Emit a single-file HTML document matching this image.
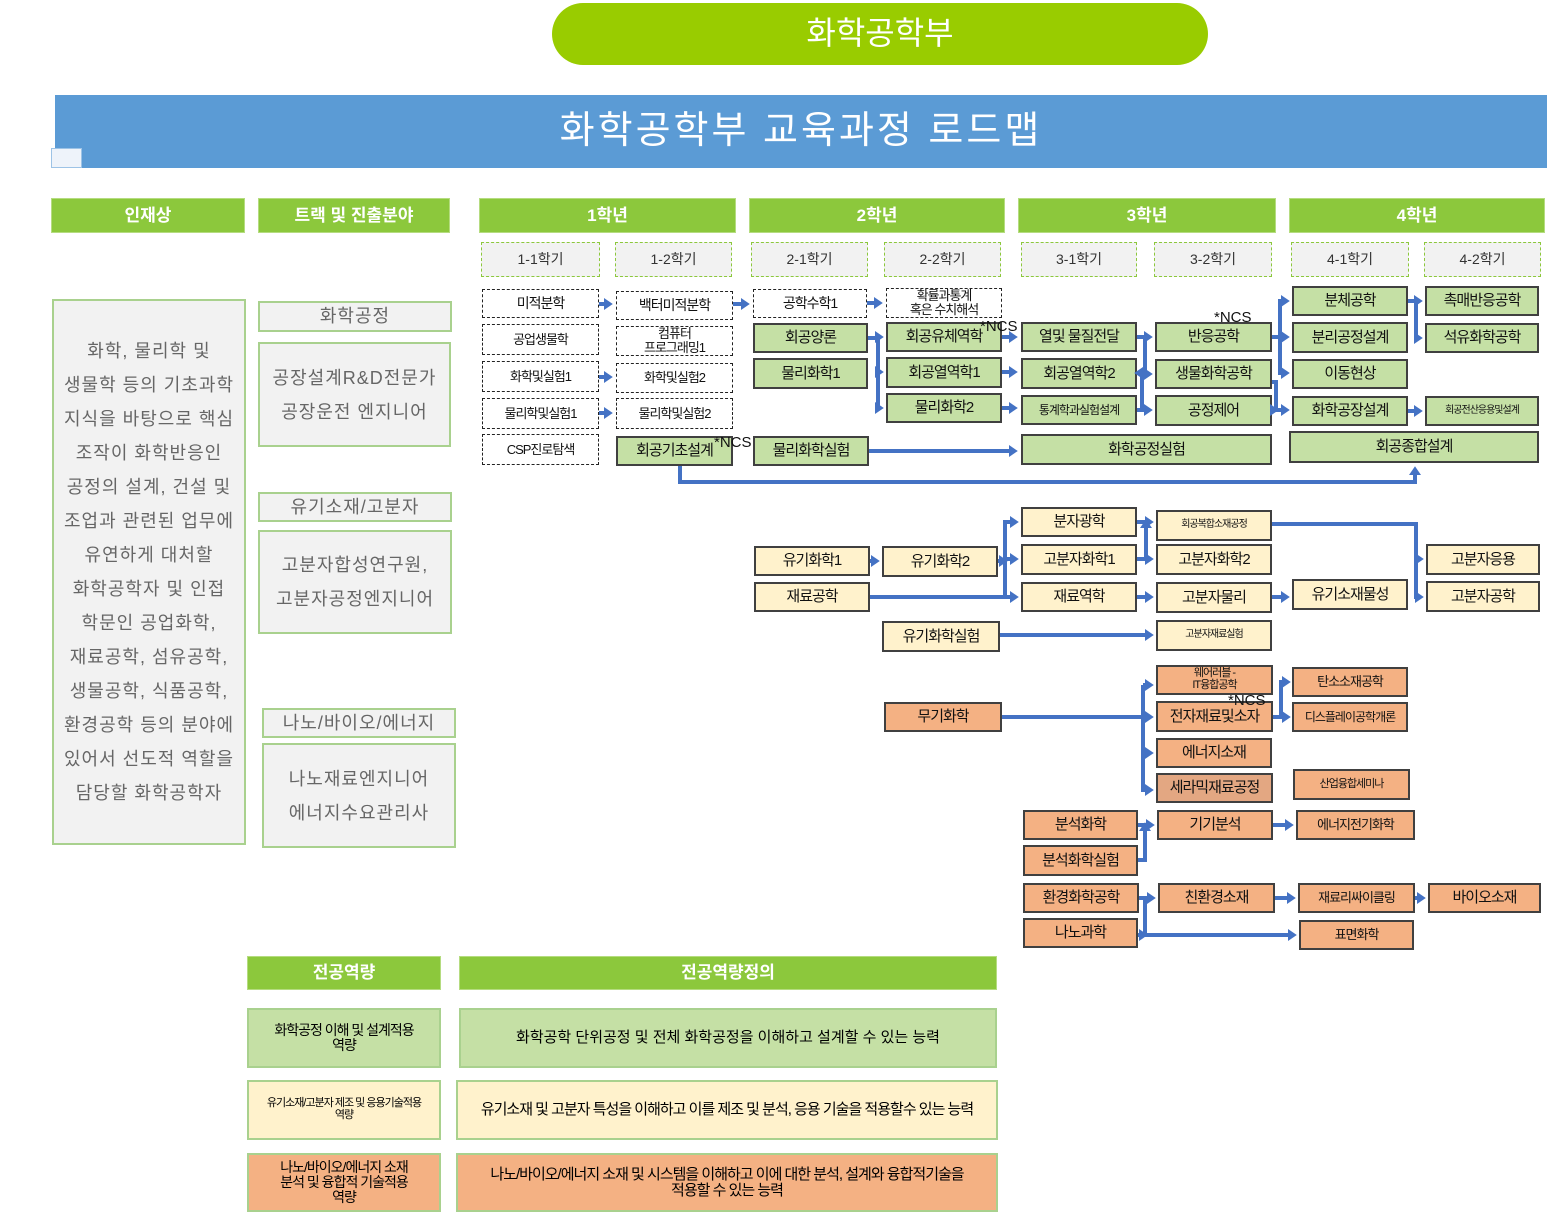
<!DOCTYPE html>
<html><head><meta charset="utf-8"><style>
*{margin:0;padding:0;box-sizing:border-box}
body{width:1549px;height:1220px;position:relative;background:#fff;font-family:"Liberation Sans","Noto Sans CJK KR",sans-serif;overflow:hidden}
.a{position:absolute;display:flex;align-items:center;justify-content:center;text-align:center;line-height:1.05}
.h{background:#8cc83c;color:#fff;font-size:17px;font-weight:bold;border:1px solid #b5dc80}
.s{background:#f2f2f2;border:1px dashed #8cc83c;color:#333;font-size:14px}
.b{border:2px solid #404040;font-size:14px;color:#111;letter-spacing:-1px}
.d{border:1.5px dashed #222;background:#fff}
.g{background:#c5e0a5}.y{background:#fff2cc}.o{background:#f4b183}
.t{background:#f2f2f2;border:2px solid #a9d18e;color:#666;font-size:18px;letter-spacing:1px}
.n{position:absolute;font-size:15px;color:#111}
</style></head><body>
<div class="a" style="left:552px;top:3px;width:656px;height:62px;border-radius:31px;background:#99cc00;color:#fff;font-size:32px">화학공학부</div>
<div class="a" style="left:55px;top:95px;width:1492px;height:73px;background:#5b9bd5;color:#fff;font-size:38px;letter-spacing:3px">화학공학부 교육과정 로드맵</div>
<div style="position:absolute;left:51px;top:148px;width:31px;height:20px;background:#eef3fa;border:1px solid #9dc3e6"></div>

<div class="a h" style="left:51px;top:198px;width:194px;height:35px">인재상</div>
<div class="a h" style="left:258px;top:198px;width:192px;height:35px">트랙 및 진출분야</div>
<div class="a h" style="left:479px;top:198px;width:257px;height:35px">1학년</div>
<div class="a h" style="left:749px;top:198px;width:256px;height:35px">2학년</div>
<div class="a h" style="left:1018px;top:198px;width:258px;height:35px">3학년</div>
<div class="a h" style="left:1289px;top:198px;width:256px;height:35px">4학년</div>

<div class="a s" style="left:481px;top:242px;width:119px;height:35px">1-1학기</div>
<div class="a s" style="left:615px;top:242px;width:117px;height:35px">1-2학기</div>
<div class="a s" style="left:751px;top:242px;width:117px;height:35px">2-1학기</div>
<div class="a s" style="left:884px;top:242px;width:117px;height:35px">2-2학기</div>
<div class="a s" style="left:1021px;top:242px;width:116px;height:35px">3-1학기</div>
<div class="a s" style="left:1154px;top:242px;width:118px;height:35px">3-2학기</div>
<div class="a s" style="left:1291px;top:242px;width:118px;height:35px">4-1학기</div>
<div class="a s" style="left:1424px;top:242px;width:117px;height:35px">4-2학기</div>

<div class="a t" style="left:52px;top:299px;width:194px;height:546px;line-height:34px;padding:0 4px">화학, 물리학 및<br>생물학 등의 기초과학<br>지식을 바탕으로 핵심<br>조작이 화학반응인<br>공정의 설계, 건설 및<br>조업과 관련된 업무에<br>유연하게 대처할<br>화학공학자 및 인접<br>학문인 공업화학,<br>재료공학, 섬유공학,<br>생물공학, 식품공학,<br>환경공학 등의 분야에<br>있어서 선도적 역할을<br>담당할 화학공학자</div>
<div class="a t" style="left:258px;top:301px;width:194px;height:31px">화학공정</div>
<div class="a t" style="left:258px;top:342px;width:193px;height:105px;line-height:34px">공장설계R&amp;D전문가<br>공장운전 엔지니어</div>
<div class="a t" style="left:258px;top:492px;width:194px;height:30px">유기소재/고분자</div>
<div class="a t" style="left:258px;top:530px;width:194px;height:104px;line-height:34px">고분자합성연구원,<br>고분자공정엔지니어</div>
<div class="a t" style="left:262px;top:708px;width:194px;height:30px">나노/바이오/에너지</div>
<div class="a t" style="left:262px;top:743px;width:194px;height:105px;line-height:34px">나노재료엔지니어<br>에너지수요관리사</div>

<div class="a b d" style="left:482px;top:289px;width:117px;height:29px">미적분학</div>
<div class="a b d" style="left:482px;top:324px;width:117px;height:31px;font-size:13px">공업생물학</div>
<div class="a b d" style="left:482px;top:361px;width:117px;height:31px;font-size:13px">화학및실험1</div>
<div class="a b d" style="left:482px;top:398px;width:117px;height:31px;font-size:13px">물리학및실험1</div>
<div class="a b d" style="left:482px;top:434px;width:117px;height:31px;font-size:13px">CSP진로탐색</div>
<div class="a b d" style="left:616px;top:291px;width:117px;height:29px">백터미적분학</div>
<div class="a b d" style="left:616px;top:326px;width:117px;height:30px;font-size:13px">컴퓨터<br>프로그래밍1</div>
<div class="a b d" style="left:616px;top:363px;width:117px;height:30px;font-size:13px">화학및실험2</div>
<div class="a b d" style="left:616px;top:398px;width:117px;height:31px;font-size:13px">물리학및실험2</div>
<div class="a b g" style="left:616px;top:436px;width:117px;height:30px;font-size:15px">회공기초설계</div>
<div class="a b d" style="left:753px;top:289px;width:114px;height:29px">공학수학1</div>
<div class="a b g" style="left:753px;top:323px;width:115px;height:30px;font-size:15px">회공양론</div>
<div class="a b g" style="left:753px;top:358px;width:115px;height:31px;font-size:15px">물리화학1</div>
<div class="a b g" style="left:753px;top:436px;width:116px;height:30px;font-size:15px">물리화학실험</div>
<div class="a b d" style="left:886px;top:288px;width:116px;height:30px;font-size:13px">확률과통계<br>혹은 수치해석</div>
<div class="a b g" style="left:886px;top:322px;width:116px;height:30px;font-size:15px">회공유체역학</div>
<div class="a b g" style="left:886px;top:357px;width:116px;height:31px;font-size:15px">회공열역학1</div>
<div class="a b g" style="left:886px;top:393px;width:116px;height:30px;font-size:15px">물리화학2</div>
<div class="a b g" style="left:1021px;top:322px;width:116px;height:30px;font-size:15px">열및 물질전달</div>
<div class="a b g" style="left:1021px;top:358px;width:116px;height:31px;font-size:15px">회공열역학2</div>
<div class="a b g" style="left:1021px;top:395px;width:116px;height:30px;font-size:12px">통계학과실험설계</div>
<div class="a b g" style="left:1021px;top:434px;width:251px;height:31px;font-size:15px">화학공정실험</div>
<div class="a b g" style="left:1155px;top:322px;width:117px;height:30px;font-size:15px">반응공학</div>
<div class="a b g" style="left:1155px;top:359px;width:117px;height:30px;font-size:15px">생물화학공학</div>
<div class="a b g" style="left:1155px;top:395px;width:117px;height:31px;font-size:15px">공정제어</div>
<div class="a b g" style="left:1292px;top:286px;width:116px;height:30px;font-size:15px">분체공학</div>
<div class="a b g" style="left:1292px;top:322px;width:116px;height:31px;font-size:15px">분리공정설계</div>
<div class="a b g" style="left:1292px;top:359px;width:116px;height:30px;font-size:15px">이동현상</div>
<div class="a b g" style="left:1292px;top:396px;width:116px;height:30px;font-size:15px">화학공장설계</div>
<div class="a b g" style="left:1289px;top:431px;width:250px;height:32px;font-size:15px">회공종합설계</div>
<div class="a b g" style="left:1425px;top:286px;width:114px;height:30px;font-size:15px">촉매반응공학</div>
<div class="a b g" style="left:1425px;top:323px;width:114px;height:30px;font-size:15px">석유화학공학</div>
<div class="a b g" style="left:1425px;top:396px;width:114px;height:30px;font-size:10px">회공전산응용및설계</div>
<div class="a b y" style="left:754px;top:546px;width:116px;height:30px;font-size:15px">유기화학1</div>
<div class="a b y" style="left:754px;top:582px;width:116px;height:30px;font-size:15px">재료공학</div>
<div class="a b y" style="left:882px;top:546px;width:116px;height:31px;font-size:15px">유기화학2</div>
<div class="a b y" style="left:882px;top:621px;width:118px;height:31px;font-size:15px">유기화학실험</div>
<div class="a b y" style="left:1021px;top:507px;width:116px;height:30px;font-size:15px">분자광학</div>
<div class="a b y" style="left:1021px;top:544px;width:116px;height:31px;font-size:15px">고분자화학1</div>
<div class="a b y" style="left:1021px;top:582px;width:116px;height:30px;font-size:15px">재료역학</div>
<div class="a b y" style="left:1156px;top:510px;width:116px;height:31px;font-size:10px">회공복합소재공정</div>
<div class="a b y" style="left:1156px;top:544px;width:116px;height:31px;font-size:15px">고분자화학2</div>
<div class="a b y" style="left:1156px;top:582px;width:116px;height:31px;font-size:15px">고분자물리</div>
<div class="a b y" style="left:1156px;top:620px;width:116px;height:31px;font-size:10px">고분자재료실험</div>
<div class="a b y" style="left:1292px;top:579px;width:116px;height:31px;font-size:15px">유기소재물성</div>
<div class="a b y" style="left:1426px;top:544px;width:114px;height:31px;font-size:15px">고분자응용</div>
<div class="a b y" style="left:1426px;top:581px;width:114px;height:31px;font-size:15px">고분자공학</div>
<div class="a b o" style="left:884px;top:702px;width:118px;height:30px;font-size:15px">무기화학</div>
<div class="a b o" style="left:1156px;top:665px;width:117px;height:30px;font-size:11px">웨어러블 -<br>IT융합공학</div>
<div class="a b o" style="left:1156px;top:701px;width:117px;height:31px;font-size:15px">전자재료및소자</div>
<div class="a b o" style="left:1156px;top:738px;width:116px;height:30px;font-size:15px">에너지소재</div>
<div class="a b o" style="left:1156px;top:773px;width:117px;height:30px;font-size:15px;background:#e3a782">세라믹재료공정</div>
<div class="a b o" style="left:1292px;top:667px;width:116px;height:30px;font-size:13px">탄소소재공학</div>
<div class="a b o" style="left:1292px;top:702px;width:116px;height:30px;font-size:12px">디스플레이공학개론</div>
<div class="a b o" style="left:1293px;top:769px;width:117px;height:31px;font-size:11px">산업융합세미나</div>
<div class="a b o" style="left:1023px;top:810px;width:115px;height:30px;font-size:15px">분석화학</div>
<div class="a b o" style="left:1157px;top:810px;width:116px;height:30px;font-size:15px">기기분석</div>
<div class="a b o" style="left:1296px;top:810px;width:119px;height:30px;font-size:13px">에너지전기화학</div>
<div class="a b o" style="left:1023px;top:845px;width:115px;height:31px;font-size:15px">분석화학실험</div>
<div class="a b o" style="left:1023px;top:883px;width:116px;height:30px;font-size:15px">환경화학공학</div>
<div class="a b o" style="left:1158px;top:883px;width:117px;height:30px;font-size:15px">친환경소재</div>
<div class="a b o" style="left:1298px;top:883px;width:117px;height:30px;font-size:13px">재료리싸이클링</div>
<div class="a b o" style="left:1428px;top:883px;width:113px;height:30px;font-size:15px">바이오소재</div>
<div class="a b o" style="left:1023px;top:918px;width:115px;height:30px;font-size:15px">나노과학</div>
<div class="a b o" style="left:1299px;top:920px;width:115px;height:30px;font-size:13px">표면화학</div>

<div class="n" style="left:714px;top:434px">*NCS</div>
<div class="n" style="left:980px;top:318px">*NCS</div>
<div class="n" style="left:1214px;top:309px">*NCS</div>
<div class="n" style="left:1228px;top:692px">*NCS</div>

<div class="a h" style="left:247px;top:956px;width:194px;height:34px">전공역량</div>
<div class="a h" style="left:459px;top:956px;width:538px;height:34px">전공역량정의</div>
<div class="a" style="left:247px;top:1008px;width:194px;height:60px;background:#c5e0a5;border:2px solid #a9d18e;font-size:14px;letter-spacing:-1px">화학공정 이해 및 설계적용<br>역량</div>
<div class="a" style="left:459px;top:1008px;width:538px;height:60px;background:#c5e0a5;border:2px solid #a9d18e;font-size:15px">화학공학 단위공정 및 전체 화학공정을 이해하고 설계할 수 있는 능력</div>
<div class="a" style="left:247px;top:1080px;width:194px;height:60px;background:#fff2cc;border:2px solid #a9d18e;font-size:11px;letter-spacing:-1px">유기소재/고분자 제조 및 응용기술적용<br>역량</div>
<div class="a" style="left:456px;top:1080px;width:542px;height:60px;background:#fff2cc;border:2px solid #a9d18e;font-size:15px;letter-spacing:-1px">유기소재 및 고분자 특성을 이해하고 이를 제조 및 분석, 응용 기술을 적용할수 있는 능력</div>
<div class="a" style="left:247px;top:1153px;width:194px;height:59px;background:#f4b183;border:2px solid #a9d18e;font-size:14px;letter-spacing:-1px">나노/바이오/에너지 소재<br>분석 및 융합적 기술적용<br>역량</div>
<div class="a" style="left:456px;top:1153px;width:542px;height:59px;background:#f4b183;border:2px solid #a9d18e;font-size:15px;letter-spacing:-1px">나노/바이오/에너지 소재 및 시스템을 이해하고 이에 대한 분석, 설계와 융합적기술을<br>적용할 수 있는 능력</div>

<svg style="position:absolute;left:0;top:0" width="1549" height="1220">
<defs><marker id="m" markerWidth="3" markerHeight="3" refX="1.5" refY="1.5" orient="auto" markerUnits="strokeWidth"><path d="M0,0 L2.2,1.5 L0,3 z" fill="#4472c4"/></marker></defs>
<g stroke="#4472c4" stroke-width="4" fill="none" marker-end="url(#m)">
<path d="M599,304H610"/><path d="M599,377H610"/><path d="M599,413H610"/>
<path d="M733,304H747"/><path d="M867,303H880"/>
<path d="M680,466V482H1415V469"/>
<path d="M868,338H878V408H881"/><path d="M878,337H881"/><path d="M878,372H881"/>
<path d="M1002,337H1015"/><path d="M1002,372H1015"/><path d="M1002,408H1015"/>
<path d="M869,451H1015"/>
<path d="M1137,337H1145V373H1137"/><path d="M1145,337H1150"/>
<path d="M1137,410H1142V374H1150"/><path d="M1142,410H1150"/>
<path d="M1272,337H1280V301H1287"/><path d="M1280,337H1287"/><path d="M1280,337V373H1287"/>
<path d="M1272,382H1276V410H1287"/><path d="M1272,410H1276"/>
<path d="M1408,301H1416V338H1420"/><path d="M1416,301H1420"/>
<path d="M1408,411H1420"/>
<path d="M870,561H877"/><path d="M998,561H1005"/>
<path d="M870,597H1016"/><path d="M1005,597V522H1016"/><path d="M1005,559H1016"/>
<path d="M1137,522H1151"/><path d="M1137,559H1146V522"/><path d="M1146,559H1151"/>
<path d="M1137,597H1151"/><path d="M1272,597H1287"/>
<path d="M1272,524H1416V597H1421"/><path d="M1416,559H1421"/>
<path d="M1000,635H1151"/>
<path d="M1002,717H1151"/><path d="M1143,685V790H1151"/><path d="M1143,685H1151"/><path d="M1143,753H1151"/>
<path d="M1273,717H1281V682H1288"/><path d="M1281,717H1288"/>
<path d="M1138,825H1152"/><path d="M1138,860H1145V825"/>
<path d="M1273,825H1291"/>
<path d="M1139,898H1153"/><path d="M1145,898V935H1294"/><path d="M1138,935H1145"/>
<path d="M1275,898H1293"/><path d="M1415,898H1423"/>
</g></svg>
</body></html>
